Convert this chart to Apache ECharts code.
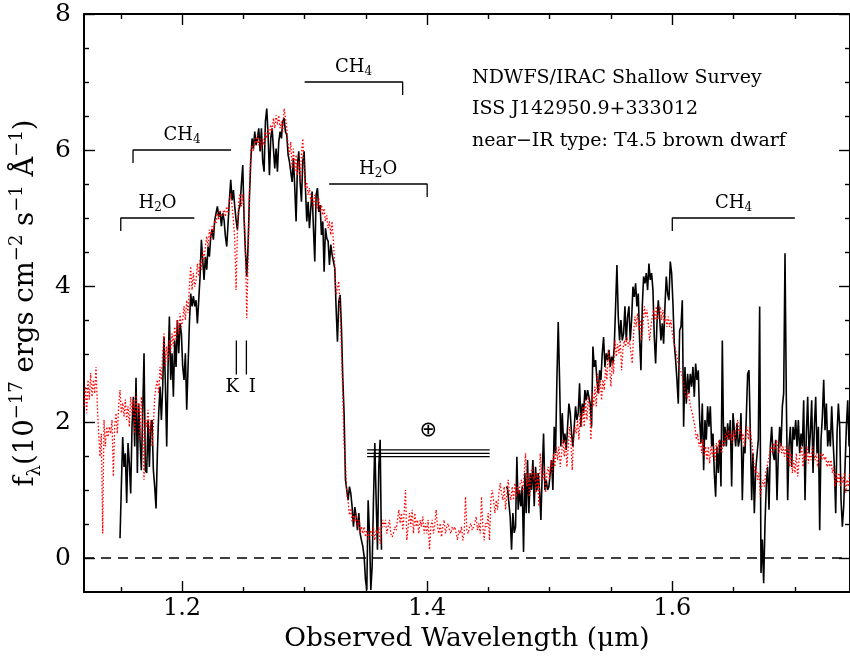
<!DOCTYPE html>
<html>
<head>
<meta charset="utf-8">
<script src="https://cdn.jsdelivr.net/npm/echarts@6/dist/echarts.min.js"></script>
<style>html,body{margin:0;padding:0;background:#fff}#c{width:850px;height:658px}</style>
</head>
<body>
<div id="c"></div>
<script>
// ---------------- DATA ----------------
const xRange = [1.12, 1.745];
const yRange = [-0.5, 8];
const xMajorTicks = [1.2, 1.4, 1.6];
const xMinorTicks = [1.15, 1.25, 1.3, 1.35, 1.45, 1.5, 1.55, 1.65, 1.7];
const yMajorTicks = [0, 2, 4, 6, 8];
const yMinorTicks = [0.5, 1, 1.5, 2.5, 3, 3.5, 4.5, 5, 5.5, 6.5, 7, 7.5];

// spectral grid (micron per pixel) of both spectra
const dispersion = 0.00108844;

// red dotted: spectral standard (template), starts at 1.12 um
const templateStart = 1.12;
const templateFlux = [
  2.23,2.52,2.13,2.62,2.33,2.72,2.37,2.62,2.42,2.81,
  2.23,1.83,1.49,1.83,0.36,2.03,1.64,1.93,1.78,1.93,
  1.83,2.03,1.20,1.93,2.13,1.83,2.23,2.47,2.13,2.28,
  2.08,2.33,2.03,2.23,1.93,2.37,2.13,2.33,1.83,2.42,
  2.13,2.28,1.74,2.37,2.03,1.15,2.03,1.93,2.18,1.83,
  2.03,1.64,1.93,2.37,2.52,2.62,2.42,2.81,2.62,3.01,
  3.30,2.81,3.11,2.91,3.20,3.01,3.30,3.11,3.40,3.20,
  3.50,3.30,3.60,3.40,3.50,3.70,3.50,3.79,3.60,3.99,
  4.29,3.94,4.19,3.99,4.09,4.33,4.14,4.38,4.24,4.53,
  4.38,4.58,4.73,4.58,4.83,4.68,4.88,4.78,4.97,4.92,
  5.07,4.97,5.12,5.02,5.07,5.12,5.02,5.17,5.07,5.26,
  5.36,5.17,4.97,4.68,3.94,4.78,5.26,
  5.36,5.17,5.35,5.10,4.60,3.53,4.36,5.34,
  5.98,6.07,5.98,6.17,6.07,6.22,6.07,6.17,6.02,6.17,
  6.07,6.27,6.17,6.32,6.22,6.37,6.27,6.47,6.32,6.51,
  6.37,6.51,6.32,6.42,6.27,6.61,6.47,6.32,6.07,5.93,
  6.12,5.73,6.02,5.68,5.93,5.63,5.83,5.53,5.93,6.17,
  5.73,5.44,5.53,5.34,5.44,5.24,5.34,5.14,5.34,5.24,
  5.14,5.29,5.09,5.19,5.04,5.14,4.95,5.04,4.85,4.95,
  4.75,4.95,4.66,4.26,3.87,3.97,4.07,3.62,3.08,2.40,
  1.66,1.42,0.93,0.83,0.63,0.73,0.53,0.63,0.53,
  0.66,0.46,0.56,0.36,0.46,0.36,0.46,0.31,0.41,0.26,
  0.36,0.41,0.31,0.46,0.26,0.41,0.36,0.46,0.21,0.41,
  0.56,0.46,0.56,0.36,0.46,0.56,0.36,0.31,0.36,0.46,
  0.41,0.56,0.71,0.51,0.66,0.41,0.66,1.00,0.26,0.46,
  0.66,0.46,0.71,0.36,0.66,0.46,0.56,0.36,0.56,0.46,
  0.61,0.36,0.51,0.36,0.56,0.12,0.46,0.56,0.36,0.51,
  0.71,0.46,0.36,0.51,0.31,0.46,0.56,0.36,0.46,0.51,
  0.41,0.36,0.46,0.41,0.46,0.36,0.26,0.41,0.36,0.46,
  0.26,0.36,0.90,0.41,0.36,0.46,0.51,0.41,0.46,0.51,
  0.61,0.41,0.51,0.36,0.90,0.46,0.26,0.51,0.46,0.66,
  0.26,0.85,1.00,0.85,0.66,0.85,0.71,0.95,1.10,0.95,
  0.85,1.05,0.71,0.95,1.15,0.95,0.85,1.05,0.85,1.10,
  0.90,1.05,0.95,1.10,
  1.15,0.96,1.25,1.54,1.05,1.25,0.90,1.25,1.34,1.15,
  1.25,0.96,1.25,0.76,1.54,1.25,1.15,1.34,0.96,1.25,
  1.34,1.15,1.44,1.25,1.54,1.34,1.64,1.44,1.64,1.34,
  1.54,1.74,1.49,1.74,1.34,1.64,1.93,1.74,1.29,1.74,
  1.93,1.83,2.03,1.74,2.13,1.93,2.23,1.93,2.32,2.03,
  2.37,2.18,1.74,2.42,2.23,2.52,2.23,2.71,2.42,2.62,
  2.32,2.62,2.47,2.81,2.62,3.06,2.81,2.52,2.91,2.71,
  3.20,2.96,3.15,3.01,3.20,2.76,3.06,3.20,3.11,3.25,
  3.11,3.20,3.01,2.86,3.30,3.55,3.40,3.60,3.35,3.50,
  3.20,3.40,3.70,3.55,3.65,3.45,3.20,3.40,3.55,3.65,
  3.50,3.70,3.50,3.60,3.70,3.50,3.65,3.45,3.55,3.40,
  3.55,3.40,3.50,3.30,3.20,3.11,3.01,2.91,2.81,
  2.81,2.71,2.60,2.52,2.40,2.35,2.47,2.30,2.20,2.13,
  2.03,1.93,1.74,1.83,1.64,1.74,1.54,1.74,1.49,1.64,
  1.44,1.64,1.39,1.64,1.49,1.64,1.44,1.69,1.54,1.74,
  1.64,1.54,1.74,1.64,1.83,1.74,1.88,1.74,1.83,1.69,
  1.88,1.74,1.93,2.03,1.83,1.93,1.74,1.83,1.64,1.83,
  1.93,1.74,1.93,1.93,1.64,1.44,1.25,1.34,1.15,1.25,
  0.90,1.05,1.15,1.05,1.25,1.34,1.44,1.54,1.64,1.54,
  1.69,1.59,1.74,1.64,1.54,1.69,1.54,1.64,1.49,1.64,
  1.44,1.64,1.34,1.54,1.25,1.44,1.25,1.54,1.20,1.44,
  1.54,1.64,1.34,1.54,1.44,1.64,1.39,1.54,1.44,1.64,
  1.54,1.44,1.54,1.34,1.44,1.54,1.44,1.54,1.44,1.49,
  1.34,1.44,1.34,1.44,1.25,1.34,1.05,1.25,1.10,1.25,
  1.05,1.20,1.10,1.25,0.96,1.15,1.05,1.25
];

// black solid: observed spectrum, two pieces (telluric gap between)
const spectrumStartA = 1.149388;
const spectrumFluxA = [
  0.29,1.05,1.78,1.34,1.54,0.81,1.69,1.39,0.95,1.93,
  2.37,1.64,2.65,1.25,2.27,1.74,1.29,2.13,3.01,1.29,
  1.25,2.03,1.34,1.93,2.03,1.29,1.05,0.73,1.54,2.13,
  2.52,2.03,2.52,3.25,2.57,1.64,2.81,3.55,2.62,3.01,
  2.37,3.20,2.81,3.50,3.01,3.45,3.30,2.81,2.62,3.01,
  2.18,2.81,3.45,3.89,3.70,3.85,3.70,3.79,3.45,3.79,
  4.14,4.68,4.38,4.09,4.43,4.24,4.58,4.43,4.73,4.83,
  4.68,4.97,5.07,5.17,5.02,5.09,4.88,5.07,4.97,4.73,
  4.58,4.92,5.26,5.56,5.26,5.41,5.17,4.97,4.83,5.12,
  5.19,5.50,5.78,5.00,4.50,4.14,4.60,5.30,5.83,6.17,
  6.02,6.27,6.07,6.17,6.32,5.98,6.32,5.83,5.68,6.42,
  6.61,6.22,5.63,6.17,6.32,6.02,5.73,6.02,5.68,6.12,
  6.27,6.17,6.42,6.47,6.27,6.22,5.93,5.83,5.68,5.53,
  5.88,5.44,4.95,5.78,5.98,5.53,5.24,5.83,5.98,5.44,
  4.95,5.24,4.85,5.14,5.39,4.85,4.36,5.34,5.44,5.09,
  5.19,4.75,4.95,4.21,4.85,4.70,4.66,4.31,4.61,4.46,
  4.36,4.26,3.67,3.18,3.77,3.87,3.38,2.64,
  2.10,1.15,1.00,0.85,1.05,0.95,0.75,0.46,0.75,0.61,
  0.41,0.66,0.36,0.26,0.17,0.02,-0.32,-0.47,0.85,0.36,
  -0.47,-0.13,0.85,1.69,0.85,0.12,1.34,1.74,0.12
];
const spectrumStartB = 1.464490;
const spectrumFluxB = [
  1.05,1.02,1.00,0.60,0.12,0.66,0.37,0.46,1.49,0.71,
  1.00,0.76,1.05,0.09,1.25,0.66,1.44,0.66,1.25,1.00,
  1.44,0.76,1.34,1.00,1.25,1.00,0.56,1.25,1.83,1.00,
  1.15,1.00,1.05,1.25,1.44,1.00,1.93,1.54,2.62,3.47,
  2.62,1.64,2.13,1.69,1.83,1.59,1.93,2.27,2.13,1.83,
  1.64,1.93,2.23,2.03,2.13,2.57,1.93,2.27,2.13,2.47,
  2.32,2.47,2.37,2.27,1.93,3.11,2.81,2.91,2.62,2.42,
  2.76,2.62,3.01,3.25,2.81,3.01,2.91,3.06,2.81,2.96,
  2.86,3.11,3.70,4.31,3.55,3.20,3.50,3.20,3.30,3.70,
  3.20,3.55,3.70,3.20,3.50,3.99,3.84,4.04,3.70,3.89,
  3.20,2.76,3.70,4.14,4.04,4.19,3.94,4.33,4.09,4.19,
  3.94,3.25,2.86,3.45,3.79,3.55,3.20,3.45,3.15,3.70,
  4.14,3.89,3.79,4.36,4.19,3.74,3.15,2.91,2.62,2.27,
  3.35,
  3.40,3.79,1.93,2.81,2.27,2.71,2.42,2.71,2.52,2.81,
  2.37,2.86,2.62,2.76,2.03,1.69,2.27,1.29,2.03,1.74,
  2.23,1.93,2.23,1.64,1.83,1.25,0.90,1.64,1.25,1.74,
  1.05,3.20,1.64,1.93,1.64,1.98,1.74,2.03,1.05,2.13,
  2.13,1.64,1.98,1.64,1.74,2.13,0.85,1.64,1.54,2.08,
  2.71,2.76,1.83,0.85,1.54,0.66,1.29,1.29,1.74,3.70,
  -0.22,0.27,-0.37,0.50,1.10,1.34,0.71,1.64,1.93,1.54,
  1.44,1.74,0.85,1.54,1.93,1.64,2.23,2.42,4.48,2.32,
  0.85,1.64,1.93,1.34,1.93,1.74,2.03,1.64,2.03,1.54,
  1.83,1.64,2.32,0.85,1.83,2.37,1.54,1.83,2.32,1.25,
  1.93,2.37,1.54,1.93,0.41,1.74,2.08,2.62,1.88,2.27,
  1.64,1.88,1.64,2.23,1.74,1.34,0.66,1.83,2.27,1.93,
  0.85,0.46,0.76,1.34,1.93,2.32,1.64,1.93
];

// absorption band annotations (molecule, subscript, rest)
const bandMolecule = ['H', 'CH', 'CH', 'H', 'CH'];
const bandSubscript = ['2', '4', '4', '2', '4'];
const bandSuffix = ['O', '', '', 'O', ''];
const bandFrom   = [1.15, 1.16, 1.30, 1.32, 1.60];
const bandTo     = [1.21, 1.24, 1.38, 1.40, 1.70];
const bandLevel  = [5.0, 6.0, 7.0, 5.5, 5.0];
const bandHookAt = ['from', 'from', 'to', 'to', 'from'];

// K I doublet markers
const kiLines = [1.2443, 1.2525];
const kiFluxSpan = [2.7, 3.2];
const kiLabels = ['K', 'I'];

// telluric band marker
const telluricFrom = 1.351;
const telluricTo = 1.451;
const telluricLevels = [1.59, 1.54, 1.49];
const telluricSymbol = '\u2295';

const infoLines = ['NDWFS/IRAC Shallow Survey', 'ISS J142950.9+333012', 'near\u2212IR type: T4.5 brown dwarf'];

// ---------------- BUILD ----------------
const SERIF = 'DejaVu Serif';
const hookDrop = 0.19;
const hidden = { color: 'rgba(0,0,0,0)', borderWidth: 0, opacity: 1 };

function toXY(start, flux) {
  return flux.map((f, i) => [start + i * dispersion, f]);
}

const series = [];
series.push({
  type: 'line', data: toXY(spectrumStartA, spectrumFluxA), showSymbol: false, symbol: 'none',
  lineStyle: { color: '#000', width: 1.6 }, z: 3
});
series.push({
  type: 'line', data: toXY(spectrumStartB, spectrumFluxB), showSymbol: false, symbol: 'none',
  lineStyle: { color: '#000', width: 1.6 }, z: 3
});
series.push({
  type: 'line', data: toXY(templateStart, templateFlux), showSymbol: false, symbol: 'none',
  lineStyle: { color: '#ff0000', width: 1.3, type: [1.5, 2] }, z: 4
});
// zero line
series.push({
  type: 'line', data: [[xRange[0], 0], [xRange[1], 0]], showSymbol: false, symbol: 'none',
  lineStyle: { color: '#000', width: 1.4, type: [10, 7] }, z: 2
});
// bands
bandMolecule.forEach((m, i) => {
  const a = bandFrom[i], b = bandTo[i], l = bandLevel[i];
  const pts = bandHookAt[i] === 'from'
    ? [[a, l - hookDrop], [a, l], [b, l]]
    : [[a, l], [b, l], [b, l - hookDrop]];
  series.push({ type: 'line', data: pts, showSymbol: false, symbol: 'none',
    lineStyle: { color: '#000', width: 1.3 }, z: 5 });
});
const richSub = {
  a: { fontFamily: SERIF, fontSize: 18, lineHeight: 22, color: '#000' },
  b: { fontFamily: SERIF, fontSize: 12, lineHeight: 12, verticalAlign: 'bottom', color: '#000' }
};
series.push({
  type: 'scatter', symbol: 'circle', symbolSize: 2, itemStyle: hidden, z: 6, silent: true,
  data: bandMolecule.map((m, i) => ({
    value: [(bandFrom[i] + bandTo[i]) / 2, bandLevel[i]],
    name: '{a|' + m + '}{b|' + bandSubscript[i] + '}' + (bandSuffix[i] ? '{a|' + bandSuffix[i] + '}' : '')
  })),
  label: { show: true, position: 'top', distance: 3, formatter: p => p.name, rich: richSub,
    fontFamily: SERIF, fontSize: 18, color: '#000' }
});
// K I
kiLines.forEach(w => {
  series.push({ type: 'line', data: [[w, kiFluxSpan[0]], [w, kiFluxSpan[1]]], showSymbol: false, symbol: 'none',
    lineStyle: { color: '#000', width: 1.3 }, z: 5 });
});
const kiOffsets = [[-4, 0], [6, 0]];
series.push({
  type: 'scatter', symbol: 'circle', symbolSize: 2, itemStyle: hidden, z: 6, silent: true,
  data: kiLines.map((w, i) => ({ value: [w, kiFluxSpan[0]], name: kiLabels[i],
    label: { offset: kiOffsets[i] } })),
  label: { show: true, position: 'bottom', distance: 3, formatter: p => p.name,
    fontFamily: SERIF, fontSize: 18, color: '#000' }
});
// telluric
telluricLevels.forEach(l => {
  series.push({ type: 'line', data: [[telluricFrom, l], [telluricTo, l]], showSymbol: false, symbol: 'none',
    lineStyle: { color: '#000', width: 1.3 }, z: 5 });
});
series.push({
  type: 'scatter', symbol: 'circle', symbolSize: 2, itemStyle: hidden, z: 6, silent: true,
  data: [{ value: [(telluricFrom + telluricTo) / 2, telluricLevels[0]], name: telluricSymbol }],
  label: { show: true, position: 'top', distance: 8, formatter: p => p.name,
    fontFamily: 'DejaVu Sans', fontSize: 21, color: '#000' }
});

const lineStyleAxis = { color: '#000', width: 2 };
function xAx(pos, ticks, len, labels, showLine) {
  return {
    type: 'value', position: pos, min: xRange[0], max: xRange[1],
    splitLine: { show: false },
    axisLine: { show: showLine, onZero: false, lineStyle: lineStyleAxis },
    axisTick: { show: true, inside: true, length: len, customValues: ticks, lineStyle: { color: '#000', width: 1.4 } },
    axisLabel: labels ? { show: true, customValues: xMajorTicks, formatter: v => v.toFixed(1), margin: 5,
      fontFamily: SERIF, fontSize: 24, color: '#000' } : { show: false },
    name: labels ? 'Observed Wavelength (\u03bcm)' : '',
    nameLocation: 'middle', nameGap: 33,
    nameTextStyle: { fontFamily: SERIF, fontSize: 26.5, color: '#000' }
  };
}
function yAx(pos, ticks, len, labels, showLine) {
  const o = {
    type: 'value', position: pos, min: yRange[0], max: yRange[1],
    splitLine: { show: false },
    axisLine: { show: showLine, onZero: false, lineStyle: lineStyleAxis },
    axisTick: { show: true, inside: true, length: len, customValues: ticks, lineStyle: { color: '#000', width: 1.4 } },
    axisLabel: labels ? { show: true, customValues: yMajorTicks, formatter: v => String(v), margin: 13,
      fontFamily: SERIF, fontSize: 25, color: '#000' } : { show: false }
  };
  if (labels) {
    o.name = '{m|f}{s|\u03bb}{m|(10}{p|\u221217}{m| ergs cm}{p|\u22122}{m| s}{p|\u22121}{m| \u00c5}{p|\u22121}{m|)}';
    o.nameLocation = 'middle';
    o.nameGap = 38;
    o.nameRotate = 90;
    o.nameTextStyle = {
      fontFamily: SERIF, fontSize: 27.5, color: '#000',
      rich: {
        m: { fontFamily: SERIF, fontSize: 27.5, lineHeight: 36, color: '#000' },
        s: { fontFamily: SERIF, fontSize: 18, lineHeight: 16, verticalAlign: 'bottom', color: '#000' },
        p: { fontFamily: SERIF, fontSize: 18, lineHeight: 22, verticalAlign: 'top', color: '#000' }
      }
    };
  }
  return o;
}

const option = {
  animation: false,
  backgroundColor: '#fff',
  title: {
    text: infoLines.join('\n'), left: 467, top: 57,
    textStyle: { fontFamily: SERIF, fontSize: 19, fontWeight: 'normal', lineHeight: 31.5, color: '#000' }
  },
  grid: { left: 84, right: 0, top: 14, bottom: 66, containLabel: false, outerBoundsMode: 'none' },
  xAxis: [
    xAx('bottom', xMajorTicks, 11, true, true),
    xAx('bottom', xMinorTicks, 5, false, false),
    xAx('top', xMajorTicks, 11, false, true),
    xAx('top', xMinorTicks, 5, false, false)
  ],
  yAxis: [
    yAx('left', yMajorTicks, 11, true, true),
    yAx('left', yMinorTicks, 5, false, false),
    yAx('right', yMajorTicks, 11, false, true),
    yAx('right', yMinorTicks, 5, false, false)
  ],
  series: series
};

const chart = echarts.init(document.getElementById('c'), null, { renderer: 'canvas' });
chart.setOption(option);
</script>
</body>
</html>
